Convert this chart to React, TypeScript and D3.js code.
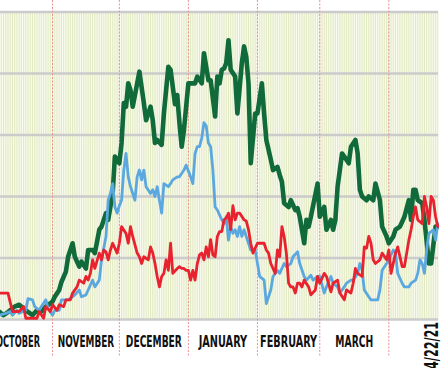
import React, { useLayoutEffect, useRef, useState } from "react";
import * as d3 from "d3";

// Day offsets from Oct 1, 2020 and values (gridline every 10 units)
const greenSeries: [number, number][] = [[3,1.8],[5,1.5],[7,1.3],[9,0.7],[11,1.2],[14,2.1],[16,2.4],[19,1.5],[22,0.7],[24,1.5],[26,1.3],[28,2.1],[31,2.9],[32,3.7],[34,4.8],[35,6.1],[37,7.8],[38,10.2],[40,12.4],[41,10.2],[43,8.6],[44,9.4],[46,8.3],[47,11.3],[49,11.3],[50,10.8],[52,14.6],[53,15.1],[55,17.3],[56,16.2],[58,20.5],[59,26.5],[61,25.4],[62,28.7],[63,35.2],[64,34.6],[65,38.4],[66,37.3],[67,34.6],[69,38.4],[70,40.3],[72,35.2],[73,32.4],[75,34.6],[76,32.4],[77,28.7],[78,29.2],[80,28.4],[81,33.5],[83,41.1],[84,40.6],[86,35.0],[87,36.5],[88,31.9],[89,28.1],[90,30.8],[92,38.4],[95,38.4],[96,39.5],[98,38.4],[99,43.3],[101,38.9],[102,38.9],[104,33.0],[105,39.5],[106,38.4],[107,40.6],[108,40.8],[109,41.7],[110,45.4],[111,40.6],[113,39.5],[114,33.5],[116,41.7],[117,44.4],[118,42.7],[119,38.4],[120,25.4],[122,33.5],[123,33.5],[125,38.4],[126,33.5],[127,29.2],[129,26.0],[130,24.3],[132,24.8],[133,23.5],[134,22.4],[135,18.9],[137,18.3],[138,19.4],[140,17.8],[141,18.1],[142,16.7],[144,12.4],[145,16.2],[146,15.1],[147,16.7],[150,22.1],[151,16.7],[153,18.3],[154,14.6],[156,16.2],[157,14.6],[158,16.2],[159,21.6],[161,27.0],[162,26.5],[164,25.4],[165,28.1],[167,29.2],[168,27.0],[169,21.1],[170,20.0],[172,19.4],[173,20.0],[175,19.4],[176,22.1],[178,19.4],[179,15.1],[181,13.5],[182,12.4],[184,13.5],[185,14.6],[187,15.1],[189,16.7],[191,19.4],[192,16.2],[193,21.1],[194,21.1],[195,19.4],[197,18.9],[198,16.2],[200,9.1],[201,9.1],[203,15.1],[204,15.1]];

const blueSeries: [number, number][] = [[3,0.8],[5,0.5],[7,0.7],[10,1.0],[12,1.3],[13,0.7],[15,1.5],[16,1.0],[19,1.5],[20,3.4],[22,3.2],[23,2.1],[25,1.5],[26,2.1],[28,3.2],[29,1.8],[31,0.7],[32,1.5],[34,1.5],[35,3.2],[37,3.2],[38,3.2],[40,3.7],[41,4.0],[43,4.8],[44,3.7],[46,4.0],[47,4.8],[49,6.4],[50,5.3],[52,6.4],[53,9.7],[55,13.5],[56,19.4],[57,20.5],[58,22.1],[59,18.3],[60,17.3],[61,18.5],[62,19.4],[63,24.3],[64,27.0],[65,23.2],[66,21.6],[68,19.4],[69,23.2],[70,24.3],[71,22.7],[72,24.3],[73,21.6],[75,20.5],[76,21.1],[77,20.0],[78,21.6],[79,19.4],[80,17.3],[81,22.1],[83,21.6],[84,22.1],[85,22.7],[87,23.2],[88,23.2],[90,24.3],[91,25.1],[93,23.2],[94,22.1],[95,27.0],[96,28.1],[97,28.1],[98,29.5],[99,32.0],[100,31.5],[101,28.7],[102,28.1],[103,24.3],[104,18.3],[105,17.8],[107,16.2],[108,15.6],[109,16.7],[110,12.9],[111,15.1],[112,14.0],[113,14.6],[114,13.5],[115,15.1],[116,13.5],[117,14.6],[119,12.4],[120,11.3],[122,11.3],[124,7.0],[126,6.4],[127,2.6],[129,4.8],[130,7.0],[132,8.0],[133,7.5],[135,9.1],[136,8.6],[138,9.1],[139,10.2],[141,11.0],[142,9.1],[144,7.0],[145,6.4],[147,7.2],[148,6.4],[150,7.0],[151,7.0],[153,4.3],[154,5.3],[156,7.0],[157,5.9],[159,5.3],[160,4.3],[162,5.3],[163,5.9],[165,6.4],[166,6.4],[168,7.5],[169,9.1],[170,8.0],[171,4.8],[173,3.7],[174,3.2],[177,3.2],[178,4.8],[179,8.0],[181,9.1],[182,9.7],[184,11.3],[185,10.8],[186,7.5],[188,5.9],[189,5.3],[191,5.3],[192,5.9],[194,6.4],[195,7.5],[196,9.7],[197,9.1],[198,7.5],[199,11.3],[200,14.0],[202,14.6],[203,12.9],[204,15.6]];

const redSeries: [number, number][] = [[3,4.3],[7,4.3],[11,4.3],[13,1.3],[16,1.3],[18,2.1],[19,0.2],[24,0.2],[25,1.3],[27,0.2],[28,2.1],[30,1.3],[31,2.4],[33,1.5],[34,2.4],[36,2.1],[37,3.2],[39,3.2],[40,4.3],[42,5.3],[43,6.4],[45,5.9],[46,7.0],[47,6.4],[48,7.5],[49,9.7],[50,8.3],[52,10.8],[53,9.7],[54,11.3],[55,11.0],[56,9.7],[57,11.3],[58,12.4],[60,10.8],[61,12.4],[62,15.1],[64,14.0],[65,12.4],[66,15.1],[67,13.5],[69,10.8],[70,10.2],[71,9.1],[72,10.2],[74,9.7],[75,11.8],[76,10.8],[77,9.1],[78,7.0],[79,5.3],[80,7.0],[81,7.5],[82,9.7],[83,8.0],[84,12.4],[85,7.5],[87,8.3],[88,8.6],[89,8.3],[90,8.3],[91,8.0],[92,8.0],[93,6.4],[94,8.0],[95,6.4],[96,9.1],[97,10.5],[98,10.8],[99,9.7],[100,11.8],[101,10.2],[102,13.0],[103,10.5],[104,10.2],[105,13.5],[106,14.3],[107,14.3],[108,16.2],[109,16.5],[110,17.3],[111,14.6],[112,18.5],[113,16.2],[114,17.3],[115,17.3],[117,16.2],[118,16.0],[119,14.6],[120,12.4],[121,10.8],[123,12.4],[126,12.4],[127,11.3],[128,10.8],[129,9.1],[131,7.5],[132,11.3],[133,10.2],[134,15.1],[135,13.5],[136,10.8],[137,5.9],[138,5.3],[139,5.3],[140,4.3],[141,5.9],[142,5.9],[143,5.3],[144,6.4],[146,5.3],[147,4.0],[149,4.8],[150,7.0],[151,5.9],[153,7.5],[154,7.0],[156,4.5],[157,5.9],[159,6.4],[160,4.3],[162,3.2],[163,4.8],[165,4.3],[166,5.9],[167,8.3],[168,7.5],[170,7.0],[171,11.8],[172,11.6],[173,13.5],[174,12.4],[175,9.7],[176,9.1],[178,9.7],[179,10.8],[181,9.7],[182,11.3],[183,7.5],[185,10.8],[186,11.8],[188,8.6],[189,8.6],[191,12.9],[192,14.6],[193,16.7],[194,18.3],[195,16.2],[197,15.6],[198,20.0],[199,18.3],[200,15.6],[201,20.0],[202,19.4],[203,16.7],[204,15.1]];

const monthLabels = ["OCTOBER", "NOVEMBER", "DECEMBER", "JANUARY", "FEBRUARY", "MARCH"];
const endLabel = "4/22/21";
const gridValues = [0, 10, 20, 30, 40, 50];

// label text widths (style), in px
const monthLabelWidths = [44, 56.5, 56, 48.5, 57, 38];
const endLabelWidth = 47;

const W = 448, H = 368;
const START = new Date(Date.UTC(2020, 9, 1));
const END = new Date(Date.UTC(2021, 3, 22));
const PLOT_RIGHT = 438;
const PLOT_TOP = 12;
const PLOT_BOTTOM = 319.5;
const FONT = "'Liberation Sans Narrow', 'DejaVu Sans Condensed', 'Roboto', sans-serif";

function FitText(props: {
  text: string;
  width: number;
  fontSize: number;
  baseTransform: string;
  anchor: string;
}) {
  const ref = useRef<SVGTextElement>(null);
  const [sx, setSx] = useState(1);
  useLayoutEffect(() => {
    if (ref.current) {
      const w = ref.current.getComputedTextLength();
      if (w > 0) setSx(props.width / w);
    }
  }, [props.text, props.width]);
  return (
    <text
      ref={ref}
      transform={`${props.baseTransform} scale(${sx},1)`}
      textAnchor={props.anchor}
      fontFamily={FONT}
      fontWeight="bold"
      fontSize={props.fontSize}
      fill="#111"
    >
      {props.text}
    </text>
  );
}

export default function App() {
  const x = d3.scaleUtc().domain([START, END]).range([-16.5, -16.5 + 203 * 2.227]);
  const y = d3.scaleLinear().domain([0, 50]).range([PLOT_BOTTOM, PLOT_TOP]);
  const toDate = (d: number) => d3.utcDay.offset(START, d);
  const line = d3
    .line<[number, number]>()
    .x((p) => x(toDate(p[0])))
    .y((p) => y(p[1]));

  const days = d3.utcDay.range(d3.utcDay.offset(START, -10), d3.utcDay.offset(END, 3));
  const stripes = days.map((d) => x(d)).filter((v) => v >= 0 && v <= PLOT_RIGHT);
  const monthStarts = d3.utcMonth.range(new Date(Date.UTC(2020, 10, 1)), new Date(Date.UTC(2021, 3, 2)));
  const labelMonths = d3.utcMonth.range(START, new Date(Date.UTC(2021, 3, 1)));

  return (
    <svg width={W} height={H} style={{ position: "absolute", left: 0, top: 0, background: "#fff" }}>
      <defs>
        <clipPath id="plotclip">
          <rect x={0} y={0} width={PLOT_RIGHT + 1} height={PLOT_BOTTOM + 4} />
        </clipPath>
      </defs>
      <rect x={0} y={PLOT_TOP} width={PLOT_RIGHT} height={PLOT_BOTTOM - PLOT_TOP} fill="#f9fbee" />
      {stripes.map((sx, i) => (
        <line key={i} x1={sx} x2={sx} y1={PLOT_TOP} y2={PLOT_BOTTOM} stroke="#e2eac4" strokeWidth={1.1} />
      ))}
      {gridValues.map((g) => (
        <line key={g} x1={0} x2={PLOT_RIGHT} y1={y(g)} y2={y(g)} stroke="#cbcbcb" strokeWidth={2.6} />
      ))}
      {monthStarts.map((m, i) => (
        <line key={i} x1={x(m)} x2={x(m)} y1={0} y2={357} stroke="#ec8f94" strokeWidth={1} strokeDasharray="2,1.5" />
      ))}
      <g clipPath="url(#plotclip)" fill="none" strokeLinejoin="round" strokeLinecap="round">
        <path d={line(greenSeries) || ""} stroke="#106a3a" strokeWidth={4.6} />
        <path d={line(blueSeries) || ""} stroke="#5aa8df" strokeWidth={2.8} />
        <path d={line(redSeries) || ""} stroke="#e8222e" strokeWidth={2.8} />
      </g>
      {labelMonths.map((m, i) => {
        const cx = (x(m) + x(d3.utcMonth.offset(m, 1))) / 2;
        return (
          <FitText
            key={i}
            text={monthLabels[i]}
            width={monthLabelWidths[i]}
            fontSize={15}
            baseTransform={`translate(${cx},347)`}
            anchor="middle"
          />
        );
      })}
      <FitText
        text={endLabel}
        width={endLabelWidth}
        fontSize={19}
        baseTransform="translate(438,322) rotate(-90)"
        anchor="end"
      />
    </svg>
  );
}
